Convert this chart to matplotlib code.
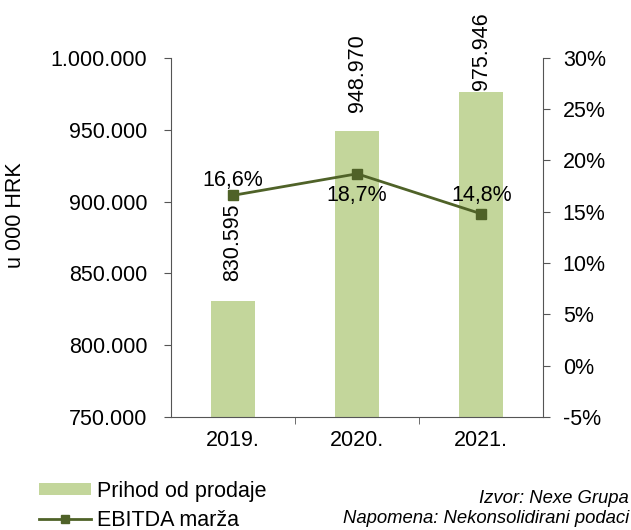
import matplotlib
matplotlib.use("Agg")
import matplotlib.pyplot as plt
from matplotlib.ticker import FuncFormatter, MultipleLocator
from matplotlib.patches import Patch
from matplotlib.lines import Line2D

plt.rcParams['font.family'] = ['Liberation Sans', 'DejaVu Sans']

# data
years = ['2019.', '2020.', '2021.']
prihod = [830595, 948970, 975946]          # u 000 HRK
ebitda_marza = [16.6, 18.7, 14.8]         # %

bar_col = '#C3D69B'
line_col = '#4F6228'
fs = 15.5

fig = plt.figure(figsize=(6.31, 5.30), dpi=100)
ax = fig.add_axes([0.271, 0.213, 0.590, 0.678])
x = list(range(len(years)))

ax.bar(x, prihod, width=0.355, color=bar_col, zorder=2)
ax.set_ylim(750000, 1000000)
ax.set_xlim(-0.5, 2.5)
ax.yaxis.set_major_locator(MultipleLocator(50000))
ax.yaxis.set_major_formatter(FuncFormatter(lambda v, p: f"{int(v):,}".replace(',', '.')))
ax.set_xticks(x)
ax.set_xticklabels(years)
ax.set_xticks([0.5, 1.5], minor=True)
ax.tick_params(axis='x', which='major', length=0, labelsize=fs, pad=9)
ax.tick_params(axis='x', which='minor', length=5, direction='out', color='#555555')
ax.tick_params(axis='y', length=5, direction='out', labelsize=fs, color='#555555', pad=12)
ax.spines['top'].set_visible(False)
ax.spines['right'].set_visible(False)
for s in ['left', 'bottom']:
    ax.spines[s].set_color('#555555')

fig.text(16 / 631, 1 - 215 / 530, 'u 000 HRK', rotation=90, ha='center', va='center',
         fontsize=fs)

# bar value labels (gap above the bar differs per bar in the original)
bar_offsets = [14.4, 13.7, 1.4]
for xi, v, off in zip(x, prihod, bar_offsets):
    ax.annotate(f"{v:,}".replace(',', '.'), (xi, v), xytext=(0, off),
                textcoords='offset points', rotation=90, ha='center', va='bottom',
                fontsize=fs)

ax2 = ax.twinx()
ax2.set_ylim(-5, 30)
ax2.yaxis.set_major_locator(MultipleLocator(5))
ax2.yaxis.set_major_formatter(FuncFormatter(lambda v, p: f"{int(round(v))}%"))
ax2.tick_params(axis='y', length=5, direction='out', labelsize=fs, color='#555555', pad=9)
for s in ['top', 'left', 'bottom']:
    ax2.spines[s].set_visible(False)
ax2.spines['right'].set_color('#555555')
ax2.plot(x, ebitda_marza, color=line_col, lw=2, marker='s', ms=7, zorder=3)

line_offsets = [7.0, -19.6, 9.2]
for xi, v, off in zip(x, ebitda_marza, line_offsets):
    ax2.annotate(f"{v:.1f}%".replace('.', ','), (xi, v), xytext=(0, off),
                 textcoords='offset points', ha='center', va='baseline', fontsize=fs)

handles = [Patch(facecolor=bar_col, edgecolor='none'),
           Line2D([0], [0], color=line_col, lw=2, marker='s', ms=6)]
fig.legend(handles, ['Prihod od prodaje', 'EBITDA marža'], loc='lower left',
           bbox_to_anchor=(0.034, -0.035), frameon=False, fontsize=fs,
           handlelength=2.45, handleheight=0.5, handletextpad=0.25, labelspacing=0.4,
           borderpad=0.3)

fig.text(0.997, 0.060, 'Izvor: Nexe Grupa', ha='right', va='center',
         style='italic', fontsize=13.3)
fig.text(0.997, 0.022, 'Napomena: Nekonsolidirani podaci', ha='right', va='center',
         style='italic', fontsize=13.3)

fig.savefig('out.png', dpi=100)
